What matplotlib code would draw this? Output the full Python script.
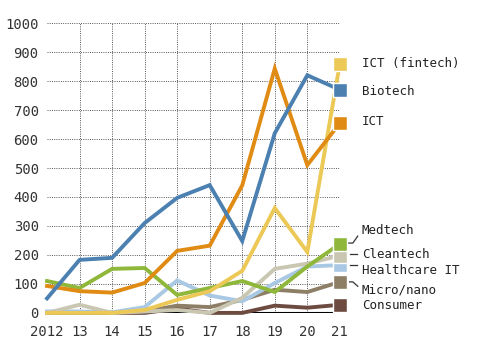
import numpy as np
import matplotlib.pyplot as plt

plt.rcParams['font.family'] = ['DejaVu Sans Mono']

years = [2012, 2013, 2014, 2015, 2016, 2017, 2018, 2019, 2020, 2021]
year_labels = ['2012', '13', '14', '15', '16', '17', '18', '19', '20', '21']

consumer = [0, 0, 0, 0, 15, 0, 0, 25, 18, 28]
micro_nano = [0, 0, 0, 5, 25, 20, 45, 80, 72, 107]
healthcare_it = [5, 5, 2, 20, 112, 60, 40, 103, 160, 165]
cleantech = [0, 28, 0, 5, 10, 0, 52, 152, 170, 198]
medtech = [110, 86, 152, 155, 62, 86, 110, 72, 160, 238]
ict_fintech = [0, 0, 0, 10, 45, 75, 145, 362, 210, 860]
ict = [93, 75, 70, 103, 214, 232, 440, 843, 510, 655]
biotech = [50, 183, 190, 310, 397, 441, 248, 620, 820, 770]

series = [
    ('Consumer', consumer, '#6e4b40'),
    ('Micro/nano', micro_nano, '#8d7e66'),
    ('Healthcare IT', healthcare_it, '#a8c8e4'),
    ('Cleantech', cleantech, '#c9c6b2'),
    ('Medtech', medtech, '#8fb83b'),
    ('ICT (fintech)', ict_fintech, '#ecc956'),
    ('ICT', ict, '#e08b14'),
    ('Biotech', biotech, '#4b80b1'),
]

# label y positions (data units) for the right-hand labels
label_y = {
    'ICT (fintech)': 862,
    'Biotech': 765,
    'ICT': 659,
    'Medtech': 286,
    'Cleantech': 203,
    'Healthcare IT': 148,
    'Micro/nano': 79,
    'Consumer': 24,
}

fig = plt.figure(figsize=(4.8, 3.5), dpi=100)
ax = fig.add_axes([0.098, 0.106, 0.61, 0.828])

for v in range(100, 1001, 100):
    ax.plot([years[0], years[-1]], [v, v], color='#555555', lw=0.7,
            ls=(0, (1, 1.3)), zorder=1)
for x in years[1:]:
    ax.plot([x, x], [0, 1000], color='#555555', lw=0.7,
            ls=(0, (1, 1.3)), zorder=1)
ax.plot([years[0], years[-1]], [0, 0], color='black', lw=1.5, zorder=2)

for name, vals, color in series:
    ax.plot(years, vals, color=color, lw=2.8, zorder=3, clip_on=False,
            solid_joinstyle='miter')
    ax.plot(years[-1], vals[-1], marker='s', ms=9.5, color=color,
            mec='white', mew=1, zorder=5, clip_on=False)
    ax.text(2021.68, label_y[name], name, fontsize=9, color='#222222',
            va='center', ha='left', clip_on=False)

# small connectors for the crowded labels
conn = [
    ([2021.25, 2021.4, 2021.55], [241, 241, 265]),
    ([2021.3, 2021.52], [203, 203]),
    ([2021.3, 2021.52], [165, 165]),
    ([2021.3, 2021.4, 2021.55], [107, 107, 92]),
]
for xs, ys in conn:
    ax.plot(xs, ys, color='#333333', lw=0.9, clip_on=False, zorder=4)

ax.set_xlim(2012, 2021)
ax.set_ylim(0, 1000)
ax.set_yticks(range(0, 1001, 100))
ax.set_yticklabels([str(v) for v in range(0, 1001, 100)], fontsize=10,
                   color='#333333')
ax.set_xticks(years)
ax.set_xticklabels(year_labels, fontsize=10, color='#333333')
ax.tick_params(length=0, pad=6)
ax.tick_params(axis='x', pad=9)
for s in ax.spines.values():
    s.set_visible(False)

fig.savefig('out.png', dpi=100)
